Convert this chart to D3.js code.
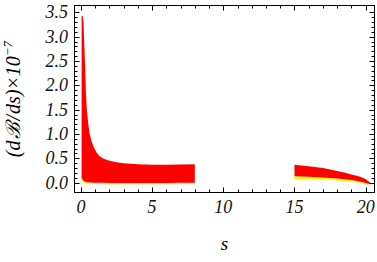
<!DOCTYPE html>
<html><head><meta charset="utf-8">
<script src="https://cdn.jsdelivr.net/npm/d3@7"></script>
<style>body{margin:0;background:#fff}svg{display:block}text{font-family:"Liberation Serif","Times New Roman",serif;font-style:italic;}</style>
</head><body><svg id="c" width="377" height="262"></svg>
<script>
// ---- data ----
const s1 = [0.05,0.12,0.18,0.22,0.26,0.30,0.35,0.42,0.50,0.60,0.75,0.90,1.10,1.30,1.60,2.00,2.50,3.00,4.00,5.00,6.00,7.00,8.00];
const upper1 = [3.42,3.43,3.30,3.00,2.65,2.38,1.85,1.49,1.25,1.02,0.85,0.73,0.62,0.55,0.49,0.45,0.42,0.40,0.38,0.37,0.37,0.375,0.38];
const lower1 = [0.10,0.06,0.04,0.03,0.025,0.02,0.015,0.01,0.008,0.005,0.003,0.0,0.0,0.0,-0.002,-0.005,-0.005,-0.005,-0.005,-0.005,-0.005,-0.003,0.0];
const yellowS1 = [0.03,0.05,0.12,0.30,0.60,1.00,2.00,4.00,6.00,8.00];
const yellowTop1 = [1.35,0.10,0.06,0.02,0.005,0.0,-0.005,-0.005,-0.005,0.0];
const yellowBot1 = [0.08,0.06,0.02,-0.01,-0.02,-0.025,-0.03,-0.03,-0.03,-0.025];

const s2 = [15.0,16.0,17.0,17.5,18.0,18.5,19.0,19.5,19.8,20.0,20.2,20.4];
const upper2 = [0.37,0.34,0.30,0.27,0.24,0.21,0.17,0.13,0.10,0.07,0.03,-0.02];
const lower2 = [0.13,0.12,0.105,0.095,0.085,0.07,0.055,0.03,0.01,-0.005,-0.02,-0.03];
const yellowBot2 = [0.075,0.07,0.06,0.055,0.045,0.035,0.02,0.0,-0.015,-0.025,-0.035,-0.035];

const xMajor = [0,5,10,15,20];
const yMajor = [0,0.5,1,1.5,2,2.5,3,3.5];

// ---- layout ----
const svg = d3.select("#c");
const L=74.5, R=374.5, T=5.5, B=192.5;
const x = d3.scaleLinear().domain([-0.45,20.62]).range([L,R]);
const y = d3.scaleLinear().domain([0,3.5]).range([182.7,12.3]);

const g = svg.append("g");
const area = d3.area().x(d=>x(d[0])).y0(d=>y(d[1])).y1(d=>y(d[2]));
const zip = (a,b,c)=>a.map((v,i)=>[v,b[i],c[i]]);

g.append("path").datum(zip(yellowS1,yellowBot1,yellowTop1)).attr("d",area).attr("fill","#ffff00");
g.append("path").datum(zip(s2,yellowBot2,lower2)).attr("d",area).attr("fill","#ffff00");
g.append("path").datum(zip(s1,lower1,upper1)).attr("d",area).attr("fill","#ff0000");
g.append("path").datum(zip(s2,lower2,upper2)).attr("d",area).attr("fill","#ff0000");

// frame
svg.append("rect").attr("x",L).attr("y",T).attr("width",R-L).attr("height",B-T)
  .attr("fill","none").attr("stroke","#000").attr("stroke-width",1);

// ticks
const xMinor = d3.range(0,21,1).filter(v=>!xMajor.includes(v));
const yMinor = d3.range(0,36,1).map(v=>v/10).filter(v=>!yMajor.some(m=>Math.abs(m-v)<1e-9));
const tk = svg.append("g").attr("stroke","#000").attr("stroke-width",1);
function xt(vals,len){vals.forEach(v=>{const px=Math.round(x(v))+0.5;
  tk.append("line").attr("x1",px).attr("x2",px).attr("y1",B).attr("y2",B-len);
  tk.append("line").attr("x1",px).attr("x2",px).attr("y1",T).attr("y2",T+len);});}
function yt(vals,len){vals.forEach(v=>{const py=Math.round(y(v))+0.5;
  tk.append("line").attr("y1",py).attr("y2",py).attr("x1",L).attr("x2",L+len);
  tk.append("line").attr("y1",py).attr("y2",py).attr("x1",R).attr("x2",R-len);});}
xt(xMajor,5); xt(xMinor,3); yt(yMajor,5); yt(yMinor,3);

// tick labels
svg.append("g").selectAll("text").data(xMajor).join("text")
  .attr("x",d=>x(d)).attr("y",213).attr("text-anchor","middle").attr("font-size",18).attr("fill","#111")
  .text(d=>d);
svg.append("g").selectAll("text").data(yMajor).join("text")
  .attr("x",68).attr("y",d=>y(d)+6).attr("text-anchor","end").attr("font-size",18).attr("fill","#111")
  .text(d=>d3.format(".1f")(d));

// axis labels
svg.append("text").attr("x",(L+R)/2).attr("y",250).attr("text-anchor","middle").attr("font-size",19).text("s");
const yl = svg.append("text").attr("transform","translate(20,99) rotate(-90)").attr("text-anchor","middle").attr("font-size",20);
yl.append("tspan").text("(d");
yl.append("tspan").attr("dx",1).text("ℬ");
yl.append("tspan").attr("dx",2).text("/");
yl.append("tspan").attr("dx",1).text("ds)");
yl.append("tspan").attr("font-style","normal").attr("dx",1).text("×");
yl.append("tspan").attr("dx",1).text("10");
yl.append("tspan").attr("font-size",13).attr("dy",-8).text("−7");
</script></body></html>
